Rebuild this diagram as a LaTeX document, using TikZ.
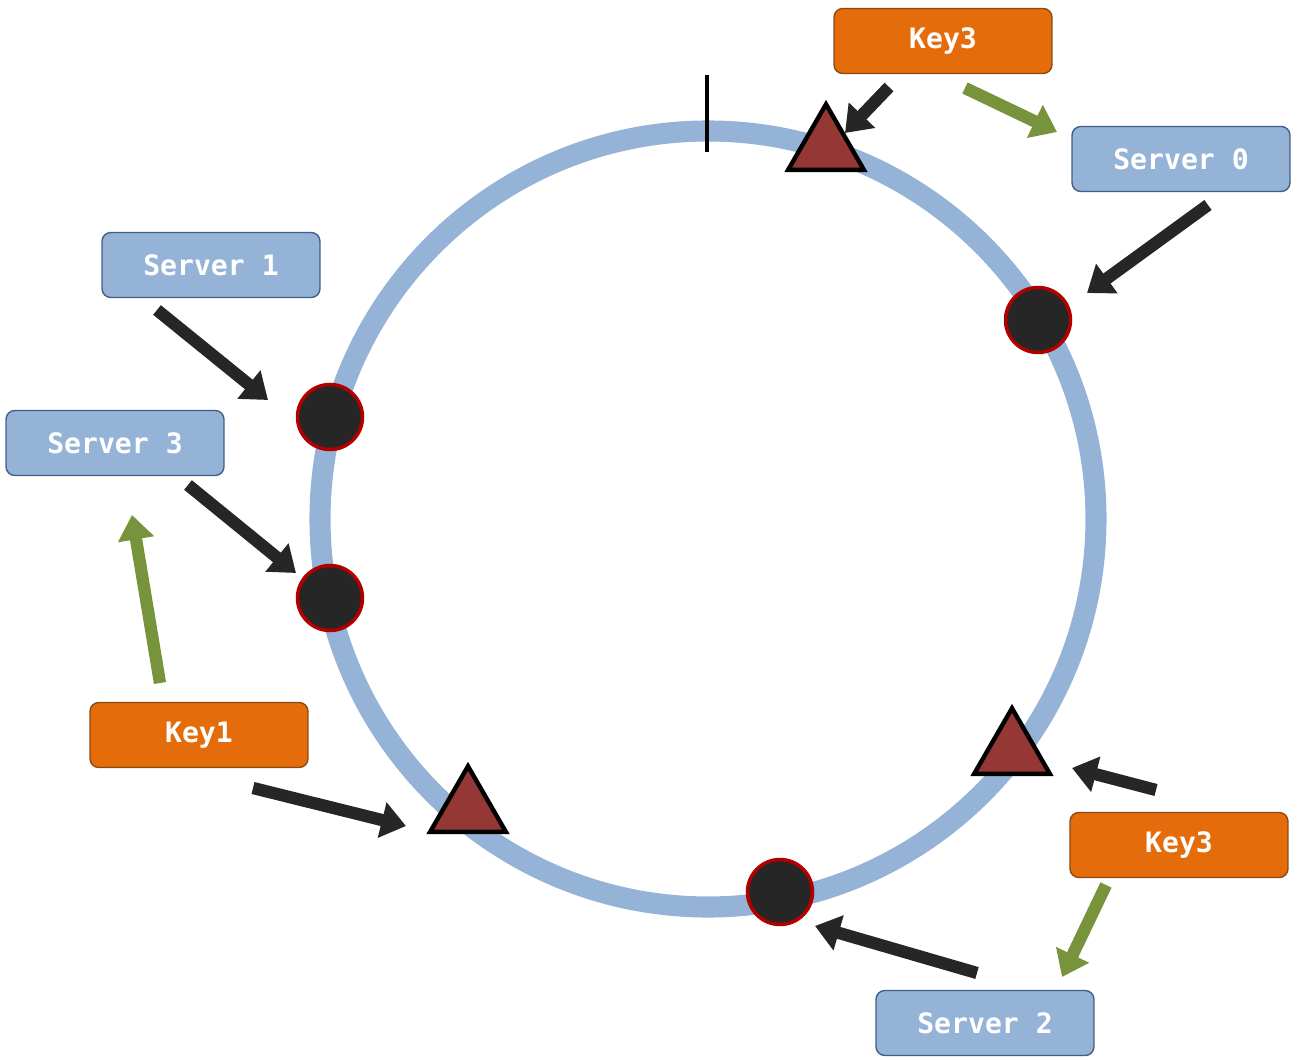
\documentclass[tikz,border=0pt]{standalone}
\usepackage{fontspec}
\newfontfamily\boxfont{DejaVu Sans Mono}
\usetikzlibrary{arrows.meta,shapes.geometric}
\definecolor{ring}{HTML}{95B3D7}
\definecolor{sbox}{HTML}{95B3D7}
\definecolor{sedge}{HTML}{3F5F86}
\definecolor{kbox}{HTML}{E46C0A}
\definecolor{kedge}{HTML}{8A4A12}
\definecolor{tri}{HTML}{953735}
\definecolor{grn}{HTML}{77933C}
\definecolor{dot}{HTML}{262626}
\begin{document}
\begin{tikzpicture}[x=0.02cm,y=-0.02cm,
  box/.style={rectangle,rounded corners=5pt,minimum width=4.36cm,minimum height=1.3cm,line width=0.8pt,font=\boxfont\bfseries\fontsize{16}{18}\selectfont,text=white},
  srv/.style={box,fill=sbox,draw=sedge},
  key/.style={box,fill=kbox,draw=kedge},
  pt/.style={circle,fill=dot,draw=red!70!black,line width=2pt,minimum size=1.3cm,inner sep=0},
  tr/.style={regular polygon,regular polygon sides=3,fill=tri,draw=black,line width=2.5pt,minimum size=1.75cm,inner sep=0},
  blk/.style={line width=7pt,draw=dot,-{Triangle[length=14pt,width=20pt]}},
  gr/.style={line width=7pt,draw=grn,-{Triangle[length=14pt,width=20pt]}}]
\useasboundingbox (0,0) rectangle (1298,1060);
\draw[ring,line width=12pt] (708,519) circle (388);
\coordinate (t1) at (707,75); \coordinate (t2) at (707,152);
\draw[line width=2.5pt] (t1) -- (t2);
\node[pt] (p0) at (1038,320) {};
\node[pt] (p1) at (330,417) {};
\node[pt] (p3) at (330,598) {};
\node[pt] (p2) at (780,892) {};
\node[tr] (k3a) at (826,148) {};
\node[tr] (k3b) at (1012,752) {};
\node[tr] (k1) at (468,810) {};
\node[key] (K3a) at (943,41) {Key3};
\node[srv] (S0) at (1181,159) {Server 0};
\node[srv] (S1) at (211,265) {Server 1};
\node[srv] (S3) at (115,443) {Server 3};
\node[key] (K1) at (199,735) {Key1};
\node[key] (K3b) at (1179,845) {Key3};
\node[srv] (S2) at (985,1023) {Server 2};
\coordinate (a1s) at (889,87); \coordinate (a1e) at (845,133);
\coordinate (g1s) at (965,88); \coordinate (g1e) at (1057,132);
\coordinate (a2s) at (1208,205); \coordinate (a2e) at (1087,293);
\coordinate (a3s) at (157,310); \coordinate (a3e) at (268,400);
\coordinate (a4s) at (188,485); \coordinate (a4e) at (296,573);
\coordinate (g2s) at (160,683); \coordinate (g2e) at (132,515);
\coordinate (a5s) at (253,788); \coordinate (a5e) at (406,826);
\coordinate (a6s) at (1156,790); \coordinate (a6e) at (1072,768);
\coordinate (g3s) at (1106,885); \coordinate (g3e) at (1062,977);
\coordinate (a7s) at (977,973); \coordinate (a7e) at (815,926);
\draw[blk] (a1s) -- (a1e);
\draw[gr] (g1s) -- (g1e);
\draw[blk] (a2s) -- (a2e);
\draw[blk] (a3s) -- (a3e);
\draw[blk] (a4s) -- (a4e);
\draw[gr] (g2s) -- (g2e);
\draw[blk] (a5s) -- (a5e);
\draw[blk] (a6s) -- (a6e);
\draw[gr] (g3s) -- (g3e);
\draw[blk] (a7s) -- (a7e);
\end{tikzpicture}
\end{document}
